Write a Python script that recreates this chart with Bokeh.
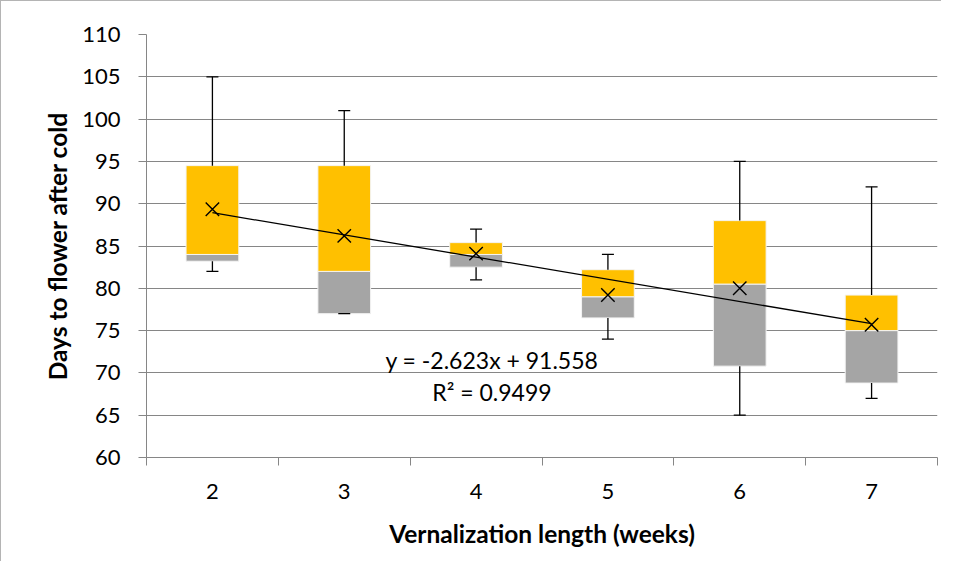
from bokeh.plotting import figure
from bokeh.models import Range1d, FixedTicker, Label
from bokeh.embed import file_html
from bokeh.resources import INLINE

# ---- data ----
weeks = [2, 3, 4, 5, 6, 7]
whisker_max = [105.0, 101.0, 87.0, 84.0, 95.0, 92.0]
q3 = [94.5, 94.5, 85.4, 82.2, 88.0, 79.2]
median = [84.0, 82.0, 84.0, 79.0, 80.5, 75.0]
q1 = [83.2, 77.0, 82.5, 76.5, 70.8, 68.8]
whisker_min = [82.0, 77.0, 81.0, 74.0, 65.0, 67.0]
mean = [89.35, 86.2, 84.1, 79.2, 80.0, 75.7]
y_ticks = [60, 65, 70, 75, 80, 85, 90, 95, 100, 105, 110]
trend_slope = -2.623
trend_intercept = 91.558
trend_r2 = 0.9499

FONT = "Lato"
AXIS_GRAY = "#868686"

p = figure(width=941, height=561,
           x_range=Range1d(1.5, 7.5), y_range=Range1d(60, 110),
           output_backend="svg", toolbar_location=None,
           min_border_left=145, min_border_right=5,
           min_border_top=33, min_border_bottom=105)
p.outline_line_color = None
p.styles = {"border-left": "1px solid #b4b4b4", "border-top": "1px solid #b4b4b4"}

# boxes: lower part (Q1 -> median) grey, upper part (median -> Q3) gold
p.vbar(x=weeks, width=0.4, bottom=q1, top=median,
       fill_color="#A5A5A5", line_color="#f4f4f4", line_width=1)
p.vbar(x=weeks, width=0.4, bottom=median, top=q3,
       fill_color="#FFC000", line_color="#f4f4f4", line_width=1)

# whiskers
p.segment(x0=weeks, y0=q3, x1=weeks, y1=whisker_max, line_color="black", line_width=1.3)
p.segment(x0=weeks, y0=whisker_min, x1=weeks, y1=q1, line_color="black", line_width=1.3)
p.scatter(x=weeks + weeks, y=whisker_max + whisker_min, marker="dash", size=12,
          line_color="black", line_width=1.3)

# linear trend line over the category index (1..n)
idx = [1, len(weeks)]
tx = [weeks[0], weeks[-1]]
ty = [trend_slope * i + trend_intercept for i in idx]
p.line(tx, ty, line_color="black", line_width=1.3)

# means
p.scatter(x=weeks, y=mean, marker="x", size=19, line_color="black", line_width=1.4)

sign = "-" if trend_intercept < 0 else "+"
eq_text = f"y = {trend_slope:.3f}x {sign} {abs(trend_intercept):.3f}"
r2_text = f"R\u00b2 = {trend_r2:.4f}"
p.add_layout(Label(x=4.12, y=71.5, text=eq_text, text_align="center", text_baseline="middle",
                   text_font=FONT, text_font_size="23px", text_color="black"))
p.add_layout(Label(x=4.12, y=67.8, text=r2_text, text_align="center", text_baseline="middle",
                   text_font=FONT, text_font_size="23px", text_color="black"))

# axes
boundaries = [w - 0.5 for w in weeks] + [weeks[-1] + 0.5]
xa = p.xaxis[0]
xa.ticker = FixedTicker(ticks=weeks, minor_ticks=boundaries)
xa.major_tick_line_color = None
xa.major_tick_out = 8
xa.major_tick_in = 0
xa.minor_tick_out = 8
xa.minor_tick_in = 0
xa.minor_tick_line_color = AXIS_GRAY
xa.major_label_standoff = 18
xa.axis_label = "Vernalization length (weeks)"
xa.axis_label_standoff = 17

ya = p.yaxis[0]
ya.ticker = FixedTicker(ticks=y_ticks)
ya.major_tick_out = 8
ya.major_tick_in = 0
ya.minor_tick_line_color = None
ya.major_tick_line_color = AXIS_GRAY
ya.major_label_standoff = 18
ya.axis_label = "Days to flower after cold"
ya.axis_label_standoff = 7

for ax in (xa, ya):
    ax.axis_line_color = AXIS_GRAY
    ax.major_label_text_font = FONT
    ax.major_label_text_font_size = "22px"
    ax.major_label_text_color = "black"
    ax.axis_label_text_font = FONT
    ax.axis_label_text_font_style = "bold"
    ax.axis_label_text_font_size = "24.5px"
    ax.axis_label_text_color = "black"

p.ygrid.ticker = FixedTicker(ticks=y_ticks)
p.ygrid.grid_line_color = AXIS_GRAY
p.xgrid.grid_line_color = None

open("out.html", "w").write(file_html(p, INLINE))
